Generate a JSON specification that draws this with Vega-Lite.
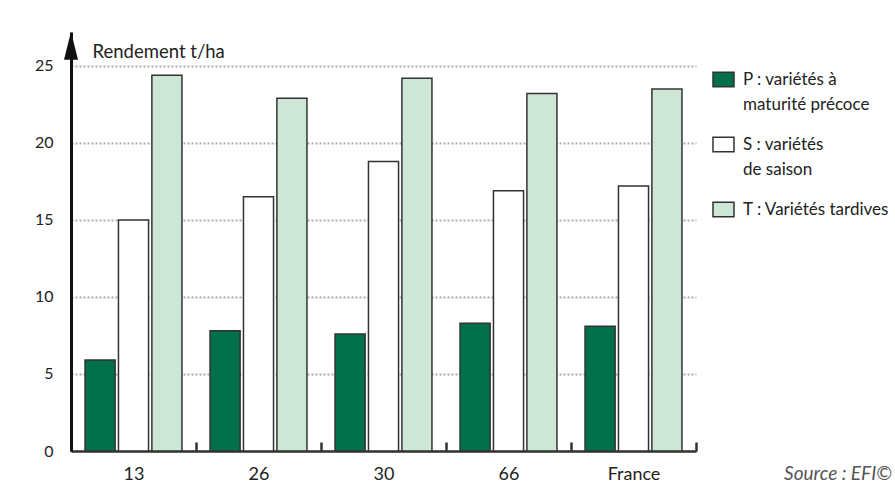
{
  "$schema": "https://vega.github.io/schema/vega-lite/v6.json",
  "width": 625,
  "height": 419,
  "autosize": {"type": "none"},
  "padding": {"left": 71, "top": 32, "right": 199, "bottom": 51},
  "background": "white",
  "config": {"font": "Lato", "view": {"stroke": null}, "style": {"guide-label": {"lineHeight": 25}}},
  "title": {"text": "Source : EFI©", "orient": "bottom", "anchor": "end", "frame": "bounds", "fontStyle": "italic", "fontWeight": "normal", "fontSize": 19, "color": "#555", "offset": -18, "dx": 2},
  "data": {"values": [
    {"region": "13", "type": "P : variétés à maturité précoce", "value": 5.9},
    {"region": "13", "type": "S : variétés de saison", "value": 15.0},
    {"region": "13", "type": "T : Variétés tardives", "value": 24.4},
    {"region": "26", "type": "P : variétés à maturité précoce", "value": 7.8},
    {"region": "26", "type": "S : variétés de saison", "value": 16.5},
    {"region": "26", "type": "T : Variétés tardives", "value": 22.9},
    {"region": "30", "type": "P : variétés à maturité précoce", "value": 7.6},
    {"region": "30", "type": "S : variétés de saison", "value": 18.8},
    {"region": "30", "type": "T : Variétés tardives", "value": 24.2},
    {"region": "66", "type": "P : variétés à maturité précoce", "value": 8.3},
    {"region": "66", "type": "S : variétés de saison", "value": 16.9},
    {"region": "66", "type": "T : Variétés tardives", "value": 23.2},
    {"region": "France", "type": "P : variétés à maturité précoce", "value": 8.1},
    {"region": "France", "type": "S : variétés de saison", "value": 17.2},
    {"region": "France", "type": "T : Variétés tardives", "value": 23.5}
  ]},
  "layer": [
    {
      "mark": {"type": "bar", "stroke": "#333", "strokeWidth": 1.5},
      "encoding": {
        "x": {"field": "region", "type": "nominal", "sort": ["13", "26", "30", "66", "France"],
          "scale": {"paddingInner": 0, "paddingOuter": 0},
          "axis": {"title": null, "labelAngle": 0, "labelFontSize": 18, "labelColor": "#222", "domainColor": "#333", "domainWidth": 2.5, "tickBand": "extent", "tickSize": -9, "tickWidth": 2.5, "tickColor": "#333", "labelPadding": 23, "labelBaseline": "top"}},
        "xOffset": {"field": "type", "type": "nominal", "sort": ["P : variétés à maturité précoce", "S : variétés de saison", "T : Variétés tardives"],
          "scale": {"paddingInner": 0.1, "paddingOuter": 0.42}},
        "y": {"field": "value", "type": "quantitative", "scale": {"domain": [0, 27.2], "nice": false},
          "axis": {"values": [0, 5, 10, 15, 20, 25], "title": "Rendement t/ha", "titleAngle": 0, "titleAlign": "left", "titleBaseline": "alphabetic", "titleX": 21, "titleY": 25, "titleFontSize": 18.5, "titleFontWeight": "normal", "titleColor": "#222",
            "labelFontSize": 16, "labelColor": "#222", "labelPadding": 18, "ticks": false, "domainColor": "#111", "domainWidth": 3,
            "grid": true, "gridColor": "#aaa", "gridDash": [2, 2], "gridWidth": 2}},
        "color": {"field": "type", "type": "nominal",
          "scale": {"domain": ["P : variétés à maturité précoce", "S : variétés de saison", "T : Variétés tardives"], "range": ["#00704a", "#ffffff", "#cde6d5"]},
          "legend": {"orient": "none", "legendX": 641, "legendY": 36, "title": null, "symbolType": "M-1,-0.7H1V0.7H-1Z", "symbolSize": 441, "symbolStrokeColor": "#333", "symbolStrokeWidth": 1.5, "symbolOpacity": 1,
            "labelFontSize": 17, "labelColor": "#222", "labelOffset": 8, "labelLimit": 300, "rowPadding": 20, "labelBaseline": "middle",
            "labelExpr": "datum.label == 'P : variétés à maturité précoce' ? ['P : variétés à', 'maturité précoce'] : datum.label == 'S : variétés de saison' ? ['S : variétés', 'de saison'] : datum.label"}}
      }
    },
    {
      "data": {"values": [{"arrow": 26.3}]},
      "mark": {"type": "point", "shape": "M0,-1L0.5,1L-0.5,1Z", "filled": true, "color": "#111", "size": 784, "clip": false, "opacity": 1},
      "encoding": {"x": {"value": 0}, "y": {"field": "arrow", "type": "quantitative"}}
    }
  ]
}
